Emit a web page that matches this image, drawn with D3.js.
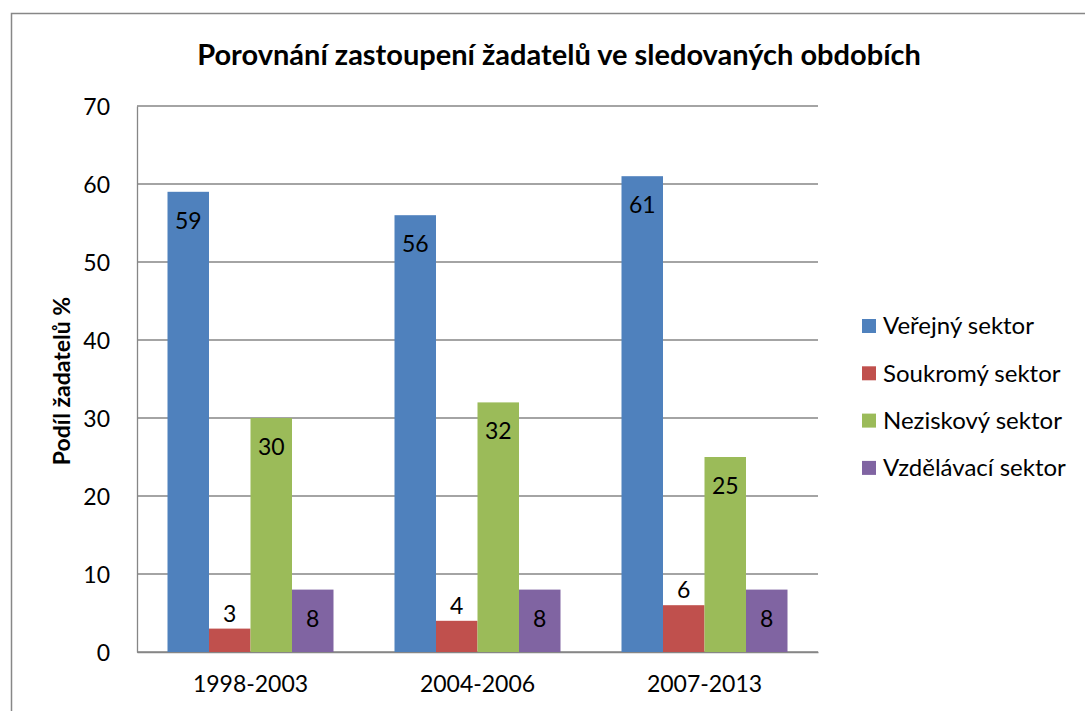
<!DOCTYPE html>
<html>
<head>
<meta charset="utf-8">
<script src="https://cdn.jsdelivr.net/npm/d3@7"></script>
<style>
  body { margin: 0; background: #fff; }
  text { font-family: Lato, "Open Sans", sans-serif; fill: #000; }
</style>
</head>
<body>
<svg id="chart" width="1085" height="711"></svg>
<script>
// Data
const periods = ['1998-2003', '2004-2006', '2007-2013'];
const sectors = ['Veřejný sektor', 'Soukromý sektor', 'Neziskový sektor', 'Vzdělávací sektor'];
const verejny = [59, 56, 61];
const soukromy = [3, 4, 6];
const neziskovy = [30, 32, 25];
const vzdelavaci = [8, 8, 8];
const yTicks = [0, 10, 20, 30, 40, 50, 60, 70];
const colors = ['#4F81BD', '#C0504D', '#9BBB59', '#8064A2'];

const seriesValues = [verejny, soukromy, neziskovy, vzdelavaci];

const svg = d3.select('#chart');

// vnější rámeček
svg.append('rect')
  .attr('x', 11.5).attr('y', 13.5)
  .attr('width', 1200).attr('height', 800)
  .style('fill', 'none')
  .style('stroke', '#878787')
  .style('stroke-width', 1.5);

const margin = { top: 106, left: 137, right: 818, bottom: 652 };

const x = d3.scaleBand().domain(periods).range([margin.left, margin.right]).paddingInner(0).paddingOuter(0);
const inner = d3.scaleBand().domain(d3.range(sectors.length)).range([0, x.bandwidth()]).paddingOuter(0.735).paddingInner(0);
const y = d3.scaleLinear().domain([0, 70]).range([margin.bottom, margin.top]);

// mřížka
svg.append('g')
  .selectAll('line')
  .data(yTicks)
  .enter()
  .append('line')
  .attr('x1', margin.left)
  .attr('x2', margin.right)
  .attr('y1', d => y(d))
  .attr('y2', d => y(d))
  .style('stroke', '#868686')
  .style('stroke-width', 1.3);

// osa Y
svg.append('g')
  .attr('transform', `translate(${margin.left},0)`)
  .call(d3.axisLeft(y).tickValues(yTicks).tickSize(0).tickPadding(27))
  .call(g => g.select('.domain').style('stroke', '#868686').style('stroke-width', 1.3))
  .selectAll('.tick text')
  .style('font-size', '23px')
  .attr('dy', '0.35em');

// osa X
svg.append('g')
  .attr('transform', `translate(0,${margin.bottom})`)
  .call(d3.axisBottom(x).tickSize(0).tickPadding(24))
  .call(g => g.select('.domain').style('stroke', '#868686').style('stroke-width', 1.3))
  .selectAll('.tick text')
  .style('font-size', '23px');

// sloupce
const groups = svg.append('g')
  .selectAll('g')
  .data(periods)
  .enter()
  .append('g')
  .attr('transform', d => `translate(${x(d)},0)`);

groups.each(function (p, pi) {
  const g = d3.select(this);
  seriesValues.forEach((vals, si) => {
    const v = vals[pi];
    g.append('rect')
      .attr('x', inner(si))
      .attr('y', y(v))
      .attr('width', inner.bandwidth())
      .attr('height', y(0) - y(v))
      .style('fill', colors[si]);
    // popisky: červené nad sloupcem, ostatní uvnitř
    const outside = si === 1;
    g.append('text')
      .attr('x', inner(si) + inner.bandwidth() / 2)
      .attr('y', outside ? y(v) - 7 : y(v) + 37)
      .attr('text-anchor', 'middle')
      .style('font-size', '23px')
      .text(v);
  });
});

// titulek
svg.append('text')
  .attr('x', 559)
  .attr('y', 65)
  .attr('text-anchor', 'middle')
  .style('font-size', '29px')
  .style('font-weight', 'bold')
  .text('Porovnání zastoupení žadatelů ve sledovaných obdobích');

// popisek osy Y
svg.append('text')
  .attr('transform', 'translate(70,381) rotate(-90)')
  .attr('text-anchor', 'middle')
  .style('font-size', '23px')
  .style('font-weight', 'bold')
  .text('Podíl žadatelů %');

// legenda
const legend = svg.append('g')
  .selectAll('g')
  .data(sectors)
  .enter()
  .append('g')
  .attr('transform', (d, i) => `translate(862, ${326 + i * 47.3})`);

legend.append('rect')
  .attr('x', 0).attr('y', -7)
  .attr('width', 14).attr('height', 14)
  .style('fill', (d, i) => colors[i]);

legend.append('text')
  .attr('x', 21)
  .attr('y', 0)
  .attr('dy', '0.35em')
  .style('font-size', '24px')
  .text(d => d);
</script>
</body>
</html>
